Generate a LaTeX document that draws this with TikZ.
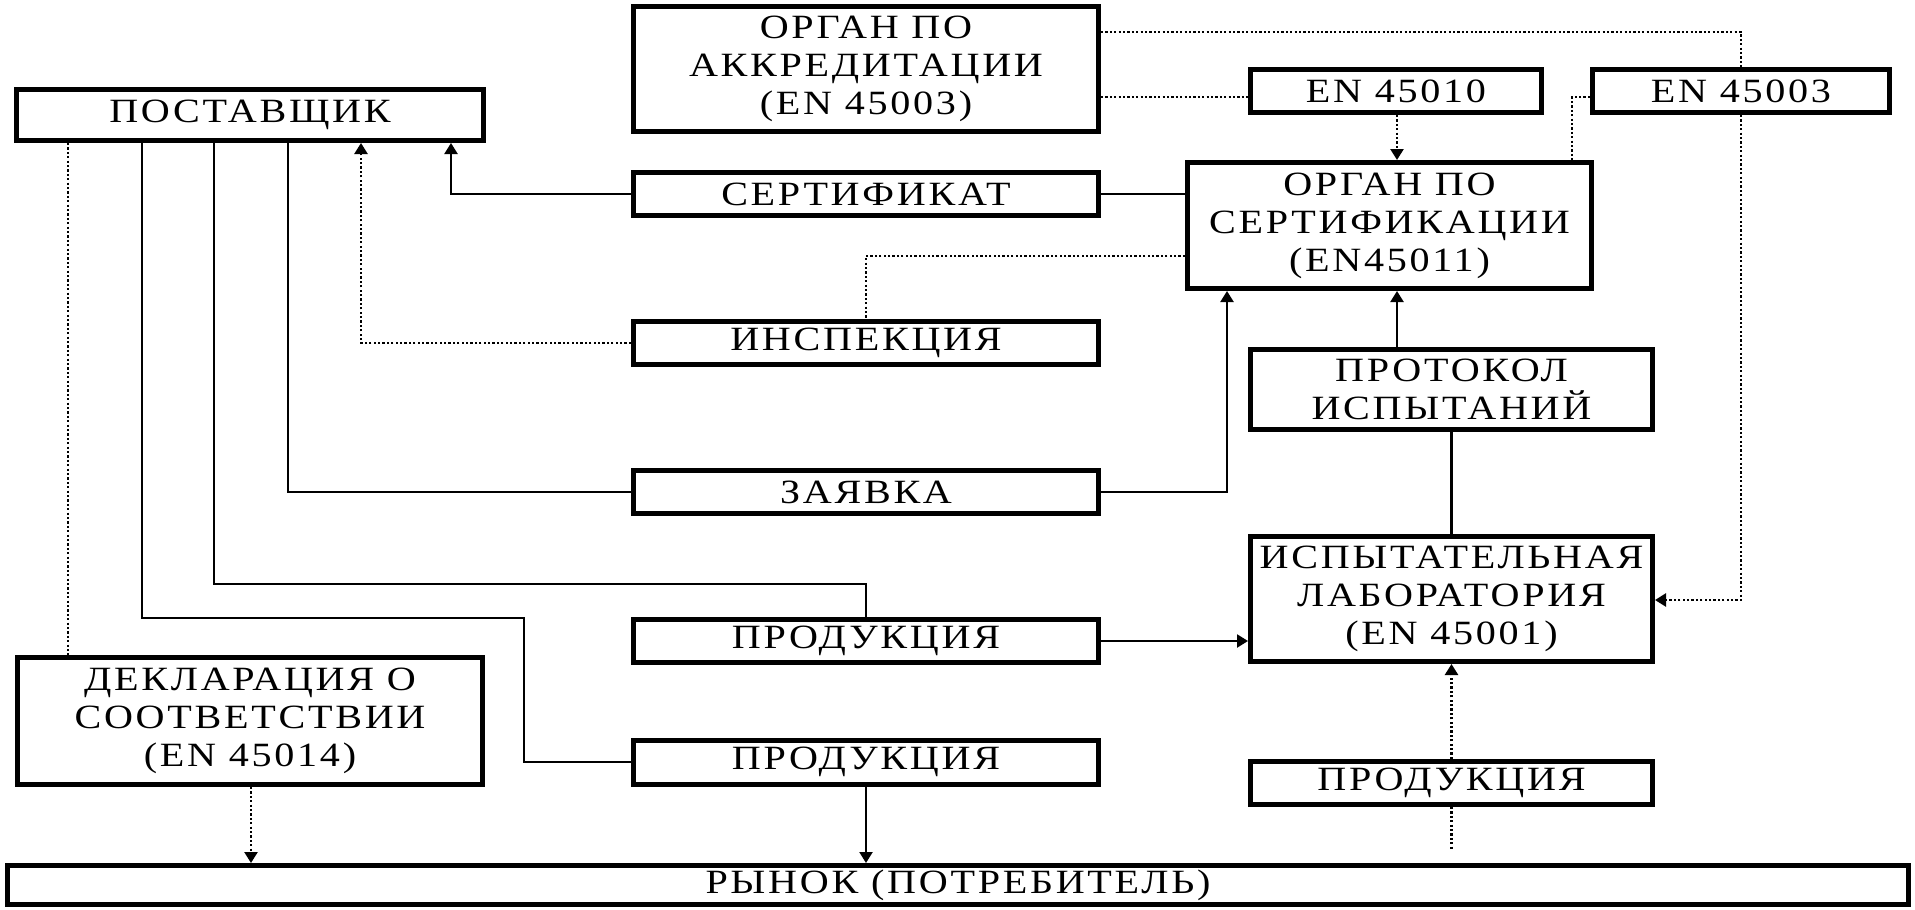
\documentclass[tikz,border=0pt]{standalone}
\usepackage{fontspec}
\setmainfont{Liberation Serif}[FakeStretch=1.18,LetterSpace=8]
\usetikzlibrary{arrows.meta}
\begin{document}
\begin{tikzpicture}[x=1pt,y=-1pt,
  box/.style={draw, line width=5pt, inner sep=0pt, align=center, font=\fontsize{34}{38}\selectfont},
  conn/.style={line width=2.2pt},
  arr/.style={line width=2.2pt, -{Triangle[width=13pt,length=11pt]}},
  dotl/.style={line width=2.4pt, dash pattern=on 2.2pt off 2.2pt},
  dotarr/.style={dotl, -{Triangle[width=13pt,length=11pt]}}]
\useasboundingbox (0,0) rectangle (1915,910);
% nodes
\node[box, minimum width=467pt, minimum height=51pt] (post) at (250,115) {ПОСТАВЩИК};
\node[box, minimum width=465pt, minimum height=125pt] (akkr) at (866,69) {ОРГАН ПО\\АККРЕДИТАЦИИ\\(EN 45003)};
\node[box, minimum width=291pt, minimum height=43pt] (en10) at (1396,91) {EN 45010};
\node[box, minimum width=297pt, minimum height=43pt] (en03) at (1741,91) {EN 45003};
\node[box, minimum width=465pt, minimum height=43pt] (sert) at (866,194) {СЕРТИФИКАТ};
\node[box, minimum width=404pt, minimum height=126pt] (cert) at (1389.5,225.5) {ОРГАН ПО\\СЕРТИФИКАЦИИ\\(EN45011)};
\node[box, minimum width=465pt, minimum height=43pt] (insp) at (866,343) {ИНСПЕКЦИЯ};
\node[box, minimum width=402pt, minimum height=80pt] (prot) at (1451.5,389.5) {ПРОТОКОЛ\\ИСПЫТАНИЙ};
\node[box, minimum width=465pt, minimum height=43pt] (zayv) at (866,492) {ЗАЯВКА};
\node[box, minimum width=402pt, minimum height=125pt] (lab) at (1451.5,599) {ИСПЫТАТЕЛЬНАЯ\\ЛАБОРАТОРИЯ\\(EN 45001)};
\node[box, minimum width=465pt, minimum height=43pt] (prodA) at (866,641) {ПРОДУКЦИЯ};
\node[box, minimum width=465pt, minimum height=127pt] (decl) at (250,721) {ДЕКЛАРАЦИЯ О\\СООТВЕТСТВИИ\\(EN 45014)};
\node[box, minimum width=465pt, minimum height=44pt] (prodB) at (866,762) {ПРОДУКЦИЯ};
\node[box, minimum width=402pt, minimum height=43pt] (prodC) at (1451.5,783) {ПРОДУКЦИЯ};
\node[box, minimum width=1901pt, minimum height=39pt] (market) at (958,885) {РЫНОК (ПОТРЕБИТЕЛЬ)};
% helper coordinates
\coordinate (ca) at (68,0);
\coordinate (cb) at (142,618);
\coordinate (cb2) at (524,618);
\coordinate (cc) at (214,584);
\coordinate (cd) at (288,0);
\coordinate (ce) at (361,0);
\coordinate (cf) at (451,0);
\coordinate (ch) at (0,256);
\coordinate (ci) at (1227,0);
\coordinate (cj) at (1397,0);
\coordinate (co) at (251,0);
\coordinate (cq) at (0,32);
\coordinate (cr) at (0,97);
\coordinate (ct) at (1572,97);
\coordinate (cu) at (0,600);
% connectors
\draw[dotl] (post.south -| ca) -- (decl.north -| ca);
\draw[conn] (post.south -| cb) -- (cb) -- (cb2) |- (prodB.west);
\draw[conn] (post.south -| cc) -- (cc) -| (prodA.north);
\draw[conn] (post.south -| cd) |- (zayv.west);
\draw[dotarr] (insp.west) -| (post.south -| ce);
\draw[arr] (sert.west) -| (post.south -| cf);
\draw[conn] (sert.east) -- (sert.east -| cert.west);
\draw[dotl] (cert.west |- ch) -| (insp.north);
\draw[arr] (zayv.east) -| (cert.south -| ci);
\draw[arr] (prot.north -| cj) -- (cert.south -| cj);
\draw[conn] (prot.south) -- (lab.north);
\draw[arr] (prodA.east) -- (prodA.east -| lab.west);
\draw[dotarr] (prodC.north) -- (lab.south);
\draw[dotl, shorten >=14pt] (prodC.south) -- (prodC.south |- market.north);
\draw[dotarr] (decl.south -| co) -- (market.north -| co);
\draw[arr] (prodB.south) -- (prodB.south |- market.north);
\draw[dotl] (akkr.east |- cq) -| (en03.north);
\draw[dotl] (akkr.east |- cr) -- (en10.west |- cr);
\draw[dotarr] (en10.south -| cj) -- (cert.north -| cj);
\draw[dotl] (en03.west |- ct) -| (cert.north -| ct);
\draw[dotarr] (en03.south) |- (lab.east |- cu);
\end{tikzpicture}
\end{document}
